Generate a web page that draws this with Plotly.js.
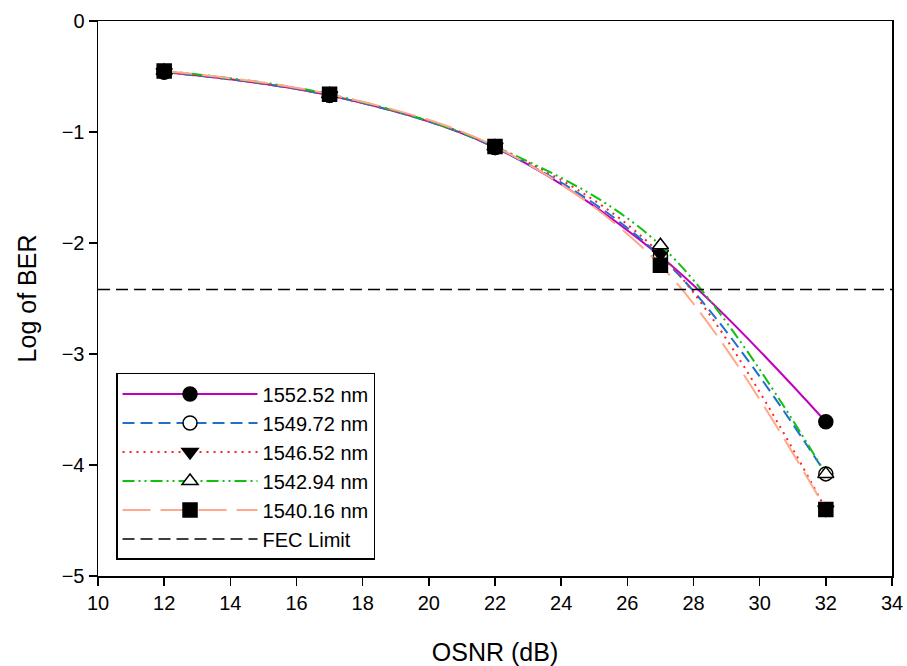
<!DOCTYPE html>
<html>
<head>
<meta charset="utf-8">
<script src="https://cdn.plot.ly/plotly-3.0.1.min.js"></script>
<style>html,body{margin:0;padding:0;background:#fff;}#chart{width:907px;height:666px;}</style>
</head>
<body>
<div id="chart"></div>
<script>
const osnr = [12, 17, 22, 27, 32];
const ber155252 = [-0.46, -0.67, -1.14, -2.12, -3.61];
const ber154972 = [-0.46, -0.67, -1.14, -2.12, -4.08];
const ber154652 = [-0.46, -0.67, -1.13, -2.10, -4.40];
const ber154294 = [-0.45, -0.66, -1.13, -2.02, -4.08];
const ber154016 = [-0.45, -0.66, -1.13, -2.20, -4.40];
const fecX = [10, 34];
const fecY = [-2.42, -2.42];
const names = ["1552.52 nm", "1549.72 nm", "1546.52 nm", "1542.94 nm", "1540.16 nm", "FEC Limit"];
const xTicks = [10, 12, 14, 16, 18, 20, 22, 24, 26, 28, 30, 32, 34];
const yTicks = [0, -1, -2, -3, -4, -5];

function series(y, name, color, dash, symbol, fill) {
  return {
    x: osnr, y: y, name: name, type: 'scatter', mode: 'lines+markers',
    line: {color: color, width: 2, dash: dash, shape: 'spline', smoothing: 1},
    marker: {symbol: symbol, size: 14, color: fill, line: {color: '#000', width: 1.5}}
  };
}

const traces = [
  series(ber155252, names[0], '#c000c0', 'solid', 'circle', '#000'),
  series(ber154972, names[1], '#1f6fcf', '12px,6px', 'circle', '#fff'),
  series(ber154652, names[2], '#ff2020', '2px,5px', 'triangle-down', '#000'),
  series(ber154294, names[3], '#10c010', '12px,4px,2px,4px,2px,4px', 'triangle-up', '#fff'),
  series(ber154016, names[4], '#ffa88a', '28px,10px', 'square', '#000'),
  {x: fecX, y: fecY, name: names[5], type: 'scatter', mode: 'lines',
   line: {color: '#000', width: 1.5, dash: '12px,6px'}}
];

const FAM = 'Liberation Sans, Arial, sans-serif';
const tickFont = {family: FAM, size: 20, color: '#000'};
const layout = {
  width: 907, height: 666,
  margin: {l: 98, r: 15, t: 21, b: 90},
  paper_bgcolor: '#fff', plot_bgcolor: '#fff',
  font: {family: FAM, size: 20, color: '#000'},
  showlegend: true,
  legend: {
    x: 0.0227, y: 0.3658, xanchor: 'left', yanchor: 'top',
    bordercolor: '#000', borderwidth: 1.5, bgcolor: '#fff',
    font: {family: FAM, size: 20, color: '#000'},
    itemwidth: 135, tracegroupgap: 0
  },
  xaxis: {
    range: [10, 34], tickvals: xTicks,
    ticks: 'outside', ticklen: 8, tickwidth: 1.5, tickcolor: '#000',
    showline: true, linecolor: '#000', linewidth: 1.5, mirror: true,
    showgrid: false, zeroline: false, tickfont: tickFont,
    title: {text: 'OSNR (dB)', font: {family: FAM, size: 25}, standoff: 32}
  },
  yaxis: {
    range: [-5, 0], tickvals: yTicks,
    ticks: 'outside', ticklen: 8, tickwidth: 1.5, tickcolor: '#000',
    showline: true, linecolor: '#000', linewidth: 1.5, mirror: true,
    showgrid: false, zeroline: false, tickfont: tickFont,
    title: {text: 'Log of BER', font: {family: FAM, size: 25}, standoff: 18}
  }
};

Plotly.newPlot('chart', traces, layout, {displayModeBar: false, staticPlot: true});
</script>
</body>
</html>
